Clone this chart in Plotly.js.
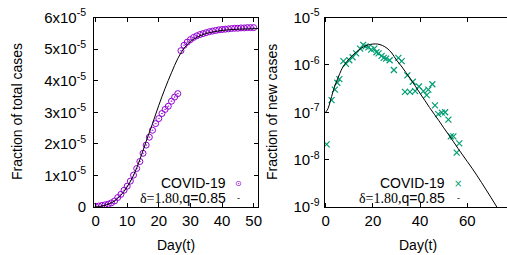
<!DOCTYPE html>
<html>
<head>
<meta charset="utf-8">
<script src="https://cdn.plot.ly/plotly-3.0.1.min.js"></script>
<style>html,body{margin:0;padding:0;overflow:hidden;background:#fff;}#chart{width:515px;height:255px;}</style>
</head>
<body>
<div id="chart"></div>
<script>
// ---- Data ----
// Left panel: fraction of total cases (COVID-19 data)
const totalDays = [0,1,2,3,4,5,6,7,8,9,10,11,12,13,14,15,16,17,18,19,20,21,22,23,24,25,26,27,28,29,30,31,32,33,34,35,36,37,38,39,40,41,42,43,44,45,46,47,48,49,50];
const totalVals = [0.02e-5,0.03e-5,0.05e-5,0.07e-5,0.09e-5,0.13e-5,0.19e-5,0.30e-5,0.40e-5,0.53e-5,0.66e-5,0.82e-5,1.01e-5,1.22e-5,1.44e-5,1.70e-5,1.96e-5,2.21e-5,2.43e-5,2.64e-5,2.80e-5,2.96e-5,3.09e-5,3.19e-5,3.35e-5,3.48e-5,3.59e-5,4.95e-5,5.12e-5,5.22e-5,5.30e-5,5.37e-5,5.42e-5,5.46e-5,5.49e-5,5.52e-5,5.55e-5,5.57e-5,5.59e-5,5.61e-5,5.62e-5,5.63e-5,5.64e-5,5.65e-5,5.66e-5,5.66e-5,5.67e-5,5.67e-5,5.68e-5,5.68e-5,5.68e-5];
// Left panel: model curve
const modelTotalDays = [0,2,4,6,8,10,12,14,16,18,20,22,24,26,28,30,32,34,36,38,40,42,45,48,51.5];
const modelTotalVals = [0.0,0.03e-5,0.09e-5,0.19e-5,0.37e-5,0.64e-5,1.0e-5,1.5e-5,2.08e-5,2.64e-5,3.22e-5,3.76e-5,4.25e-5,4.70e-5,5.03e-5,5.24e-5,5.37e-5,5.46e-5,5.52e-5,5.56e-5,5.59e-5,5.61e-5,5.63e-5,5.64e-5,5.65e-5];
// Right panel: fraction of new cases (COVID-19 data)
const newDays = [0.4,2.5,3.9,4.9,5.8,7.5,8.6,10.0,11.4,12.9,14.6,15.9,16.9,18.1,19.3,20.6,21.5,22.4,23.7,24.6,25.6,27.1,28.9,30.8,32.2,33.6,34.6,35.7,36.9,37.9,39.5,41.4,42.8,43.5,45.2,46.3,47.7,49.2,50.6,52.0,53.0,54.1,55.5,56.6];
const newVals = [2.1e-8,1.8e-7,3.0e-7,4.2e-7,5.0e-7,1.2e-6,1.05e-6,1.25e-6,1.45e-6,1.75e-6,2.2e-6,2.65e-6,2.45e-6,2.35e-6,2.1e-6,2.2e-6,1.85e-6,1.75e-6,1.55e-6,1.4e-6,1.35e-6,1.25e-6,7.8e-7,1.4e-6,1.2e-6,2.7e-7,6.0e-7,2.7e-7,4.4e-7,2.8e-7,3.5e-7,2.8e-7,2.3e-7,3.0e-7,3.9e-7,1.4e-7,9.1e-8,9.8e-8,1.0e-7,7.0e-8,3.1e-8,3.1e-8,1.4e-8,2.2e-8];
// Right panel: model curve
const modelNewDays = [0,1,2,3,4,5,6,7,8,10,12,14,16,18,20,22,24,26,28,30,32,34,36,38,40,42,44,46,48,50,52,54,56,58,60,62,64,66,68,70,72,74];
const modelNewVals = [1.0e-7,1.2e-7,1.74e-7,2.63e-7,3.72e-7,5.0e-7,6.6e-7,8.5e-7,1.02e-6,1.35e-6,1.7e-6,2.04e-6,2.4e-6,2.63e-6,2.75e-6,2.75e-6,2.57e-6,2.24e-6,1.78e-6,1.26e-6,9.5e-7,6.9e-7,5.0e-7,3.55e-7,2.5e-7,1.78e-7,1.26e-7,9.1e-8,6.6e-8,4.7e-8,3.4e-8,2.45e-8,1.74e-8,1.26e-8,9.1e-9,6.6e-9,4.7e-9,3.3e-9,2.3e-9,1.6e-9,1.1e-9,7.5e-10];
// Tick labels
const leftYTickVals = [0,1e-5,2e-5,3e-5,4e-5,5e-5,6e-5];
const leftYTickText = ['0','1x10<sup>-5</sup>','2x10<sup>-5</sup>','3x10<sup>-5</sup>','4x10<sup>-5</sup>','5x10<sup>-5</sup>','6x10<sup>-5</sup>'];
const rightYTickVals = [1e-9,1e-8,1e-7,1e-6,1e-5];
const rightYTickText = ['10<sup>-9</sup>','10<sup>-8</sup>','10<sup>-7</sup>','10<sup>-6</sup>','10<sup>-5</sup>'];
const leftXTickVals = [0,10,20,30,40,50];
const leftXTickText = ['0','10','20','30','40','50'];
const rightXTickVals = [0,20,40,60];
const rightXTickText = ['0','20','40','60'];
const seriesName = 'COVID-19';
const modelName = '<span style="font-family:Liberation Serif, Times New Roman, serif">δ=1.80,</span>q=0.85';
const xTitle = 'Day(t)';
const leftYTitle = 'Fraction of total cases';
const rightYTitle = 'Fraction of new cases';

// ---- Styling ----
const W = 515, H = 255;
const FONT = 'Liberation Sans, Arial, sans-serif';
const PURPLE = '#9400d3', GREEN = '#009e73';
const fx = p => p / W;
const fy = p => (H - p) / H;

function axis(extra) {
  return Object.assign({
    showline: true, linecolor: '#000', linewidth: 1, mirror: 'ticks',
    ticks: 'inside', ticklen: 4, tickcolor: '#000', tickwidth: 1,
    showgrid: false, zeroline: false, tickmode: 'array',
    showticklabels: true,
    tickfont: {family: FONT, size: 15, color: '#000'}
  }, extra);
}

const traces = [
  {x: totalDays, y: totalVals, xaxis: 'x', yaxis: 'y', mode: 'markers', type: 'scatter', name: seriesName,
   marker: {symbol: 'circle-open-dot', size: 6, color: PURPLE, line: {width: 1, color: PURPLE}}, showlegend: false},
  {x: modelTotalDays, y: modelTotalVals, xaxis: 'x', yaxis: 'y', mode: 'lines', type: 'scatter', name: 'model',
   line: {color: '#000', width: 1, shape: 'spline', smoothing: 1}, showlegend: false},
  {x: newDays, y: newVals, xaxis: 'x2', yaxis: 'y2', mode: 'markers', type: 'scatter', name: seriesName,
   marker: {symbol: 'x-thin-open', size: 6, color: GREEN, line: {width: 1.2, color: GREEN}}, showlegend: false},
  {x: modelNewDays, y: modelNewVals, xaxis: 'x2', yaxis: 'y2', mode: 'lines', type: 'scatter', name: 'model',
   line: {color: '#000', width: 1, shape: 'spline', smoothing: 1}, showlegend: false}
];

const ydom = [fy(207), fy(17.5)];
function ann(text, x, y, xanchor, font, angle) {
  const a = {text: text, xref: 'paper', yref: 'paper', x: x, y: y, xanchor: xanchor, yanchor: 'middle', showarrow: false,
             font: Object.assign({family: FONT, size: 14, color: '#000'}, font || {})};
  if (angle) a.textangle = angle;
  return a;
}
const layout = {
  width: W, height: H,
  margin: {l: 0, r: 0, t: 0, b: 0},
  paper_bgcolor: '#fff', plot_bgcolor: '#fff',
  font: {family: FONT, size: 15, color: '#000'},
  showlegend: false,
  xaxis: axis({domain: [fx(94), fx(258.4)], range: [-0.5, 51.5], tickvals: leftXTickVals, ticktext: leftXTickText, anchor: 'y'}),
  yaxis: axis({domain: ydom, range: [0, 6e-5], tickvals: leftYTickVals, ticktext: leftYTickText, anchor: 'x', ticklabelstandoff: 4}),
  xaxis2: axis({domain: [fx(324.5), fx(514.5)], range: [-0.5, 80], tickvals: rightXTickVals, ticktext: rightXTickText, anchor: 'y2'}),
  yaxis2: axis({domain: ydom, type: 'log', range: [-9, -5], tickvals: rightYTickVals, ticktext: rightYTickText, anchor: 'x2', ticklabelstandoff: 1}),
  annotations: [
    ann(xTitle, fx(176), fy(245), 'center'),
    ann(xTitle, fx(418), fy(245), 'center'),
    ann(leftYTitle, fx(17), fy(112), 'center', null, -90),
    ann(rightYTitle, fx(272), fy(112), 'center', null, -90),
    // legends (gnuplot style: text then key)
    ann(seriesName, fx(228), fy(183), 'right'),
    ann('⊙', fx(238), fy(183), 'center', {size: 8, color: PURPLE, family: 'DejaVu Sans'}),
    ann(modelName, fx(228), fy(198), 'right'),
    ann('-', fx(238), fy(198), 'center', {size: 9}),
    ann(seriesName, fx(447), fy(183), 'right'),
    ann('×', fx(458), fy(183), 'center', {size: 10, color: GREEN, family: 'DejaVu Sans'}),
    ann(modelName, fx(447), fy(198), 'right'),
    ann('-', fx(458), fy(198), 'center', {size: 9})
  ]
};

Plotly.newPlot('chart', traces, layout, {displayModeBar: false});
</script>
</body>
</html>
